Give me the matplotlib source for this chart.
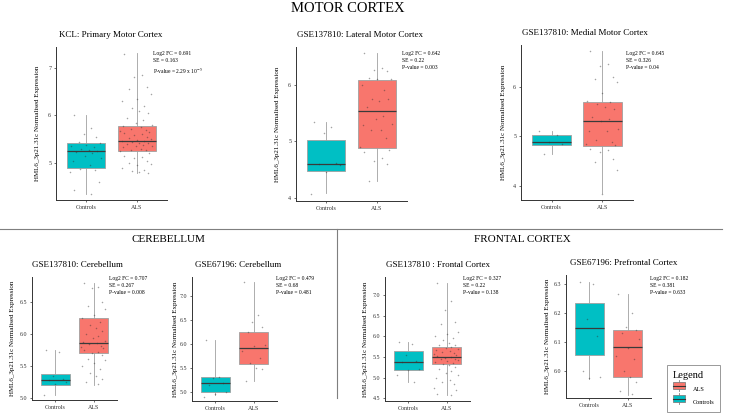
import numpy as np
import matplotlib.pyplot as plt
from matplotlib.patches import Rectangle
from matplotlib.legend_handler import HandlerBase
from matplotlib.lines import Line2D

plt.rcParams['font.family'] = 'Liberation Serif'
plt.rcParams['mathtext.fontset'] = 'stix'

W, H = 737, 419

groups = ['Controls', 'ALS']
col_ctrl = '#00BFC4'
col_als = '#F8766D'

# ---------------- data ----------------
titles = ['KCL: Primary Motor Cortex', 'GSE137810: Lateral Motor Cortex',
          'GSE137810: Medial Motor Cortex', 'GSE137810: Cerebellum',
          'GSE67196: Cerebellum', 'GSE137810 : Frontal Cortex',
          'GSE67196: Prefrontal Cortex']
log2fc = ['0.691', '0.642', '0.645', '0.707', '0.479', '0.327', '0.182']
se = ['0.163', '0.22', '0.326', '0.267', '0.68', '0.22', '0.381']
pval = ['2.29 x 10$^{-5}$', '0.003', '0.04', '0.008', '0.481', '0.138', '0.633']

# box statistics: [Controls, ALS]
q1 = [[4.90, 5.26], [4.47, 4.88], [4.83, 4.81], [5.21, 5.70],
      [5.00, 5.59], [5.18, 5.32], [6.055, 5.98]]
med = [[5.25, 5.47], [4.60, 5.53], [4.88, 5.32], [5.28, 5.86],
       [5.19, 5.91], [5.37, 5.50], [6.146, 6.081]]
q3 = [[5.43, 5.78], [5.02, 6.09], [5.03, 5.70], [5.38, 6.25],
      [5.32, 6.25], [5.64, 5.75], [6.235, 6.14]]
wlo = [[4.35, 4.79], [4.08, 4.29], [4.65, 3.87], [5.05, 5.21],
       [4.93, 5.23], [4.89, 4.57], [5.973, 5.918]]
whi = [[6.00, 7.32], [5.34, 6.57], [5.10, 6.71], [5.75, 6.80],
       [6.09, 7.29], [5.87, 7.30], [6.306, 6.266]]

# individual samples
pts_ctrl = [
    [6.0, 5.73, 5.6, 5.55, 5.45, 5.42, 5.38, 5.35, 5.33, 5.3, 5.28, 5.25,
     5.22, 5.2, 5.15, 5.1, 5.05, 4.95, 4.88, 4.85, 4.8, 4.6, 4.42, 4.35],
    [5.34, 5.25, 5.15, 4.62, 4.6, 4.58, 4.45, 4.06],
    [5.1, 5.03, 4.88, 4.85, 4.65],
    [5.75, 5.72, 5.35, 5.3, 5.28, 5.25, 5.22, 5.05],
    [6.09, 5.32, 5.3, 5.19, 5.15, 5.0, 4.95, 4.9],
    [5.87, 5.82, 5.55, 5.4, 5.37, 5.2, 5.18, 5.05, 4.89],
    [6.306, 6.3, 6.18, 6.12, 6.0, 5.98, 5.975],
]
pts_als = [
    [7.3, 6.85, 6.8, 6.6, 6.55, 6.45, 6.35, 6.3, 6.2, 6.15, 6.1, 6.05, 5.95,
     5.9, 5.85, 5.8, 5.78, 5.75, 5.72, 5.7, 5.68, 5.65, 5.62, 5.6, 5.58,
     5.55, 5.52, 5.5, 5.48, 5.47, 5.46, 5.45, 5.43, 5.42, 5.4, 5.38, 5.36,
     5.35, 5.33, 5.3, 5.28, 5.27, 5.25, 5.2, 5.15, 5.12, 5.1, 5.05, 5.0,
     4.98, 4.95, 4.9, 4.85, 4.82, 4.8, 4.79],
    [6.57, 6.3, 6.27, 6.25, 6.12, 6.1, 6.1, 6.0, 5.9, 5.75, 5.72, 5.75, 5.6,
     5.45, 5.4, 5.3, 5.28, 5.2, 5.2, 5.05, 4.9, 4.85, 4.8, 4.7, 4.65, 4.6,
     4.3],
    [6.71, 6.45, 6.42, 6.2, 6.15, 6.1, 5.87, 5.72, 5.7, 5.65, 5.6, 5.55,
     5.4, 5.35, 5.32, 5.15, 5.1, 5.1, 4.92, 4.88, 4.85, 4.82, 4.75, 4.72,
     4.68, 4.55, 4.48, 4.32, 3.85],
    [6.8, 6.75, 6.72, 6.5, 6.45, 6.4, 6.3, 6.25, 6.2, 6.15, 6.1, 6.05, 6.0,
     5.98, 5.95, 5.9, 5.88, 5.86, 5.85, 5.82, 5.8, 5.78, 5.75, 5.72, 5.7,
     5.68, 5.62, 5.6, 5.55, 5.5, 5.45, 5.4, 5.35, 5.3, 5.25, 5.22],
    [7.3, 6.6, 6.45, 6.35, 6.25, 5.98, 5.95, 5.85, 5.7, 5.6, 5.5, 5.48,
     5.23],
    [7.3, 6.85, 6.65, 6.35, 6.3, 6.1, 6.05, 6.0, 5.95, 5.9, 5.85, 5.8, 5.78,
     5.75, 5.72, 5.7, 5.68, 5.65, 5.62, 5.6, 5.58, 5.55, 5.52, 5.5, 5.48,
     5.46, 5.44, 5.42, 5.4, 5.38, 5.35, 5.32, 5.3, 5.25, 5.2, 5.15, 5.1,
     5.05, 5.0, 4.95, 4.9, 4.85, 4.75, 4.7, 4.6, 4.57],
    [6.266, 6.2, 6.15, 6.14, 6.13, 6.11, 6.08, 6.05, 6.04, 6.0, 5.98, 5.96,
     5.93, 5.92],
]

ylims = [(4.22, 7.44), (3.94, 6.67), (3.72, 6.84), (4.97, 6.9),
         (4.81, 7.4), (4.43, 7.44), (5.906, 6.33)]
yticks = [[5, 6, 7], [4, 5, 6], [4, 5, 6], [5.0, 5.5, 6.0, 6.5],
          [5.0, 5.5, 6.0, 6.5, 7.0], [4.5, 5.0, 5.5, 6.0, 6.5, 7.0],
          [6.0, 6.1, 6.2, 6.3]]
ytick_fmt = ['%d', '%d', '%d', '%.1f', '%.1f', '%.1f', '%.1f']

# fixed jitter pattern for the dots
jitter = [-0.25, 0.1, -0.05, 0.2, -0.15, 0.28, 0.0, -0.3, 0.15, -0.1, 0.05,
          0.22, -0.2, 0.12, -0.02, 0.3, -0.27, 0.08, -0.12, 0.18, -0.33, 0.25]

# ---------------- layout (pixels) ----------------
# left, right, top, bottom of each axes
boxes = [(56, 167, 47, 200), (296, 407, 47, 201), (521, 633, 45, 200),
         (32, 117, 277, 400), (192, 277, 277, 401), (385, 470, 277, 401),
         (566, 651, 275, 398)]
title_x = [59, 297, 522, 32, 195, 386, 570]
ylab_x = [38, 278, 504, 13, 175, 365, 547]
ann_xy = [(153, 51), (402, 51), (626, 51), (109, 276), (276, 276),
          (463, 276), (650, 276)]


def fx(px):
    return px / W


def fy(py):
    return 1 - py / H


fig = plt.figure(figsize=(W / 100, H / 100), dpi=100)

for i in range(7):
    l, r, t, b = boxes[i]
    ax = fig.add_axes([fx(l), fy(b), (r - l) / W, (b - t) / H])
    stats = []
    for g in range(2):
        stats.append(dict(med=med[i][g], q1=q1[i][g], q3=q3[i][g],
                          whislo=wlo[i][g], whishi=whi[i][g], fliers=[]))
    bp = ax.bxp(stats, positions=[1, 2], widths=0.75, patch_artist=True,
                showcaps=False, showfliers=False,
                boxprops=dict(edgecolor='#a0a0a0', linewidth=0.6),
                whiskerprops=dict(color='#a0a0a0', linewidth=0.6),
                medianprops=dict(color='#3a3a3a', linewidth=0.9))
    bp['boxes'][0].set_facecolor(col_ctrl)
    bp['boxes'][1].set_facecolor(col_als)
    for g, pts in enumerate([pts_ctrl[i], pts_als[i]]):
        xs = [g + 1 + jitter[k % len(jitter)] for k in range(len(pts))]
        ax.scatter(xs, pts, s=1.2, color='#333333', alpha=0.45, lw=0,
                   zorder=4)
    ax.set_xlim(0.4, 2.6)
    ax.set_ylim(*ylims[i])
    ax.set_yticks(yticks[i])
    ax.set_yticklabels([ytick_fmt[i] % v for v in yticks[i]])
    ax.set_xticks([1, 2])
    ax.set_xticklabels(groups)
    for s in ['top', 'right']:
        ax.spines[s].set_visible(False)
    for s in ['left', 'bottom']:
        ax.spines[s].set_linewidth(0.7)
        ax.spines[s].set_color('#333333')
    ax.tick_params(labelsize=4.3, length=1.5, width=0.5, pad=2,
                   color='#333333', labelcolor='#333333')
    ax.patch.set_alpha(0)

    fig.text(fx(title_x[i]), fy((t - 12)), titles[i], fontsize=6.5,
             ha='left', va='center')
    fig.text(fx(ylab_x[i]), fy((t + b) / 2),
             'HML6_3p21.31c Normalised Expression', rotation=90,
             fontsize=5, ha='center', va='center')
    ax_, ay_ = ann_xy[i]
    fig.text(fx(ax_), fy(ay_),
             'Log2 FC = %s\nSE = %s\nP-value = %s' % (log2fc[i], se[i], pval[i]),
             fontsize=4, ha='left', va='top', linespacing=1.45)

# section headers
fig.text(fx(348), fy(8), 'MOTOR CORTEX', fontsize=10.5, ha='center',
         va='center')
fig.text(fx(168), fy(239), 'CEREBELLUM', fontsize=8, ha='center',
         va='center')
fig.text(fx(522), fy(239), 'FRONTAL CORTEX', fontsize=8, ha='center',
         va='center')

# separators
fig.add_artist(Line2D([0, fx(722)], [fy(229), fy(229)], color='#7f7f7f',
                      lw=0.8))
fig.add_artist(Line2D([fx(337), fx(337)], [fy(229), fy(398)],
                      color='#7f7f7f', lw=0.8))


class BoxKey(HandlerBase):
    def create_artists(self, legend, orig, xd, yd, width, height, fontsize,
                       trans):
        cx = xd + width / 2
        box = Rectangle((xd + width * 0.05, yd + height * 0.05),
                        width * 0.9, height * 0.9,
                        facecolor=orig.get_facecolor(),
                        edgecolor='#808080', lw=0.6, transform=trans)
        wl = Line2D([cx, cx], [yd - height * 0.2, yd + height * 1.2],
                    color='#808080', lw=0.6, transform=trans)
        ml = Line2D([xd + width * 0.05, xd + width * 0.95],
                    [yd + height * 0.5, yd + height * 0.5],
                    color='#333333', lw=0.8, transform=trans)
        return [wl, box, ml]


h_als = Rectangle((0, 0), 1, 1, facecolor=col_als)
h_ctrl = Rectangle((0, 0), 1, 1, facecolor=col_ctrl)
leg = fig.legend([h_als, h_ctrl], ['ALS', 'Controls'],
                 handler_map={Rectangle: BoxKey()},
                 title='Legend', fontsize=4.5, title_fontsize=7.5,
                 loc='upper left', bbox_to_anchor=(fx(667), fy(365)),
                 frameon=True, fancybox=False, borderpad=0.9,
                 handlelength=2.0, handleheight=1.5, labelspacing=0.9,
                 handletextpad=1.2, borderaxespad=0)
leg.get_frame().set_edgecolor('#808080')
leg.get_frame().set_linewidth(0.7)
leg._legend_box.align = 'left'

fig.savefig('out.png', dpi=100)
